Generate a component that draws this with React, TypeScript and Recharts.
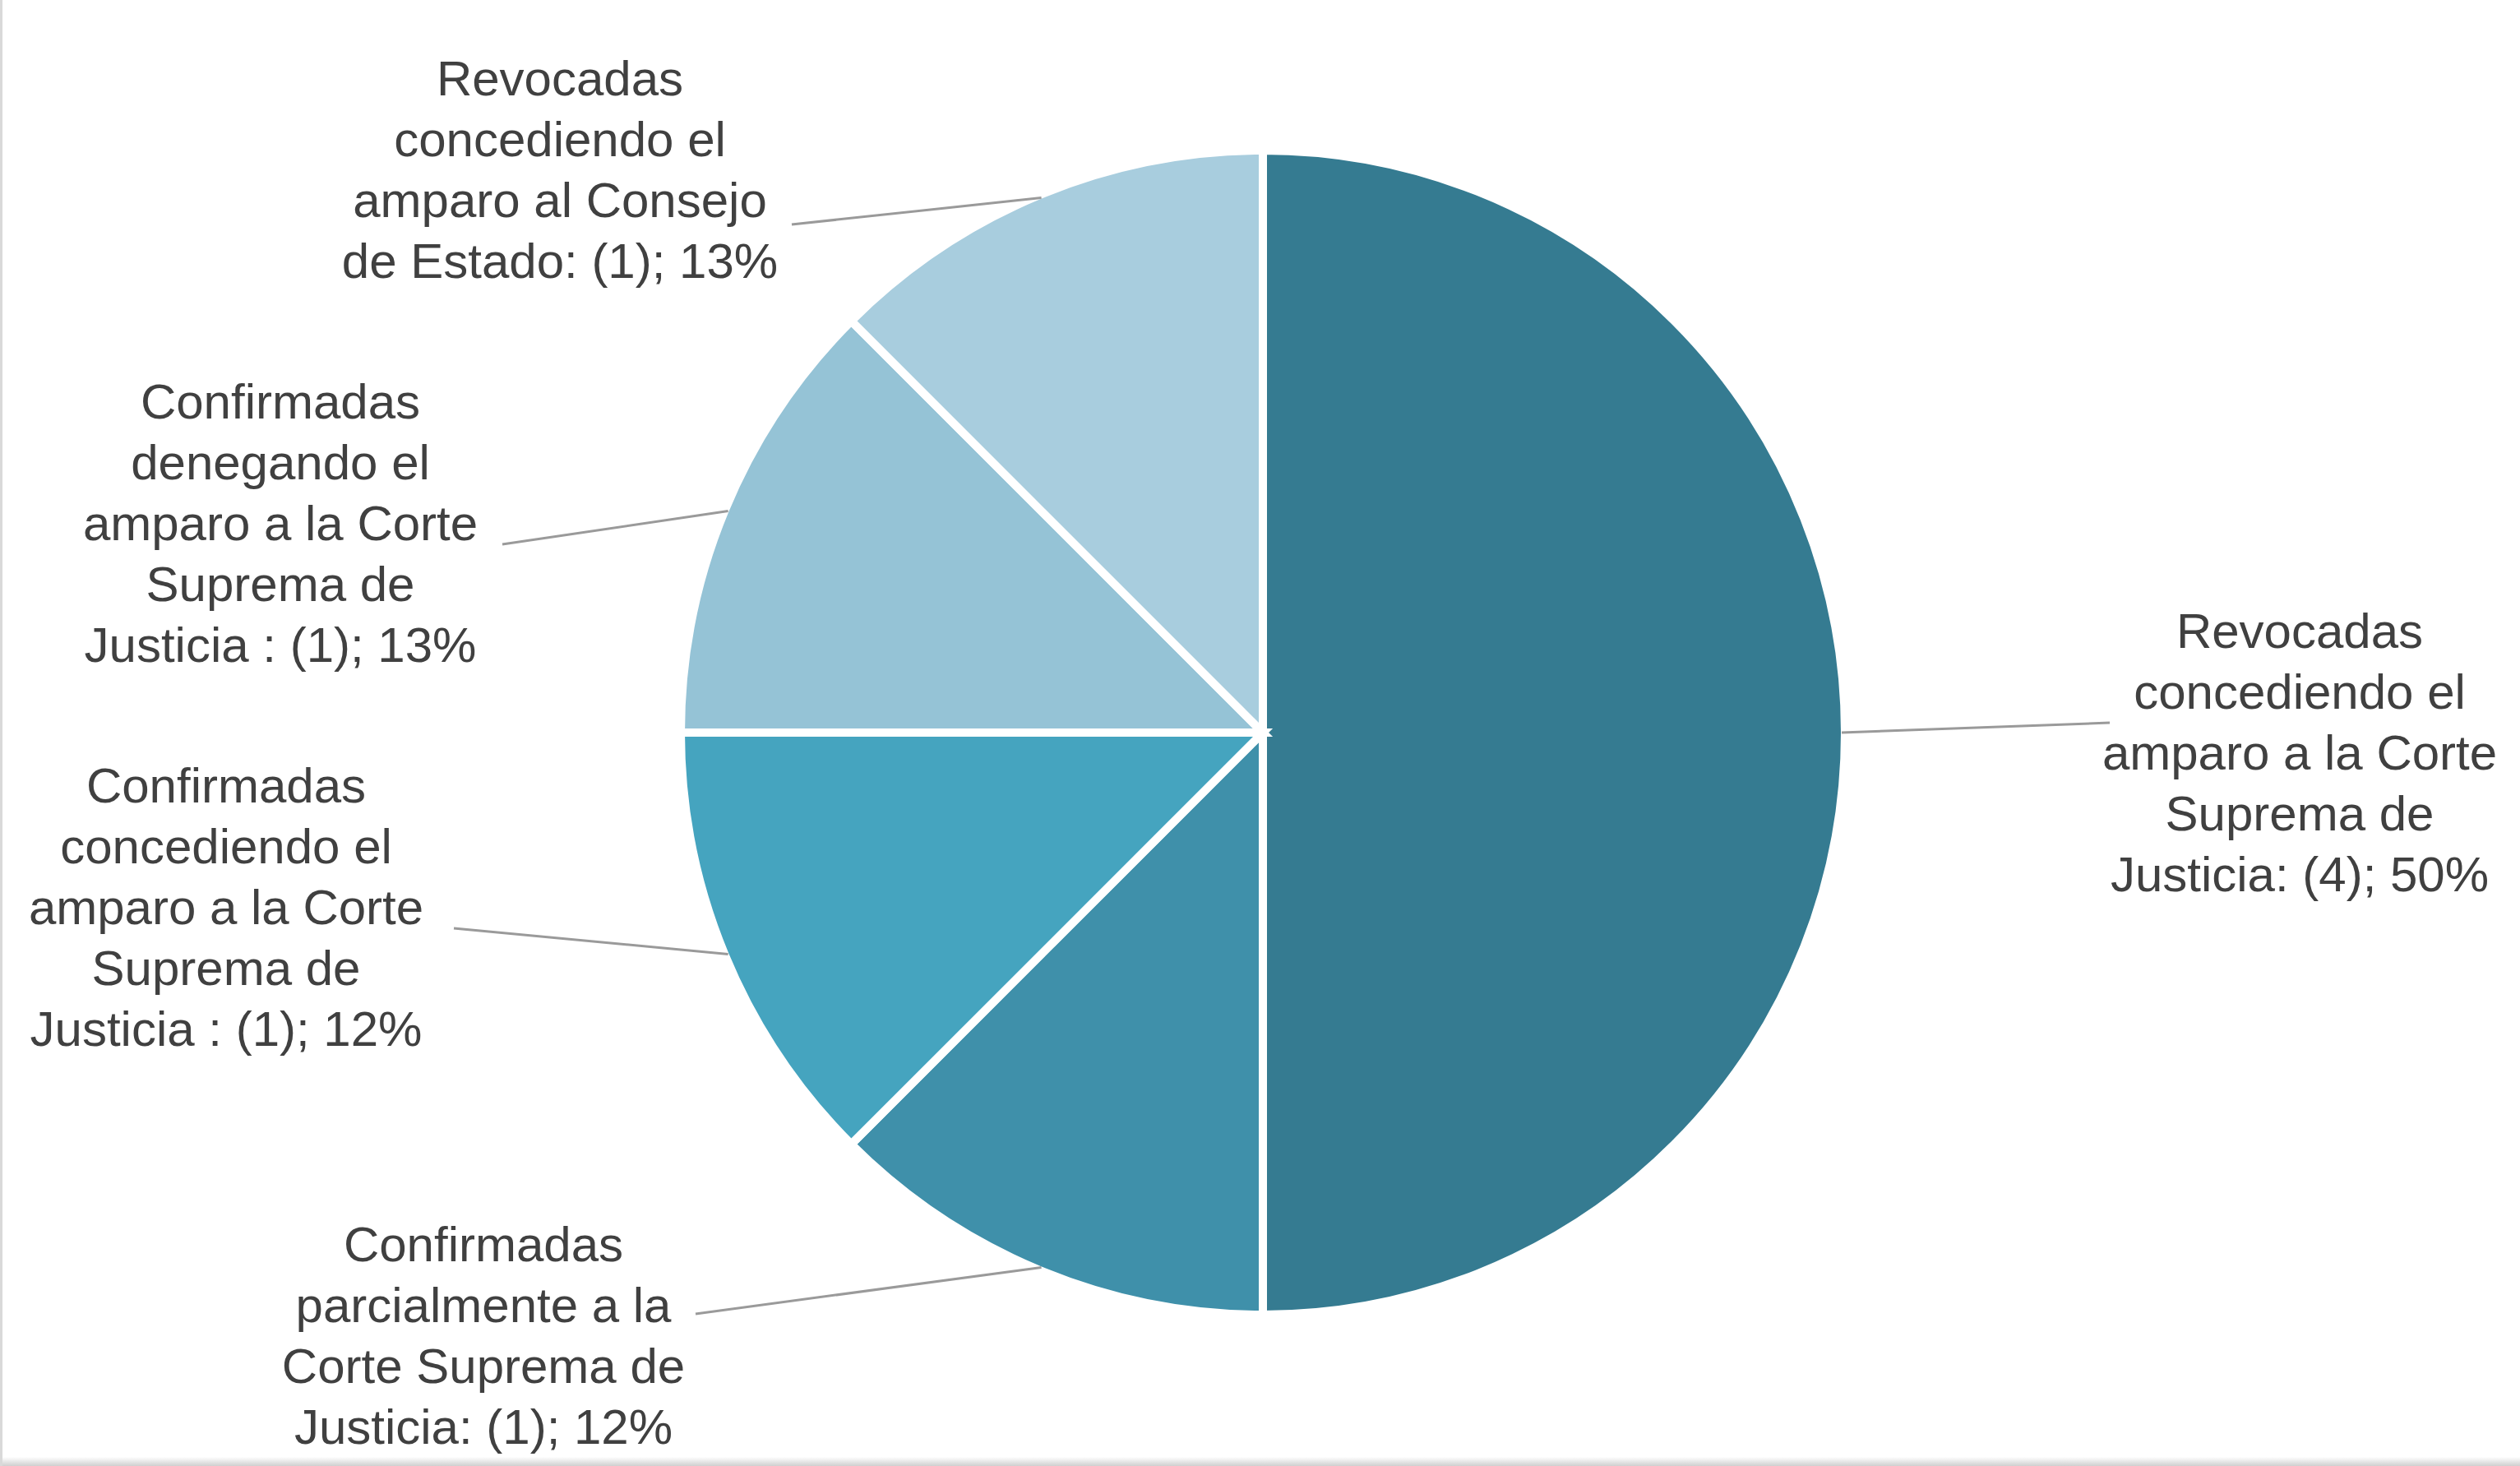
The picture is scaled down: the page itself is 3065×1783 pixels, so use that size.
import { PieChart, Pie, Cell } from "recharts";

const categories = [
  "Revocadas concediendo el amparo a la Corte Suprema de Justicia",
  "Confirmadas parcialmente a la Corte Suprema de Justicia",
  "Confirmadas concediendo el amparo a la Corte Suprema de Justicia",
  "Confirmadas denegando el amparo a la Corte Suprema de Justicia",
  "Revocadas concediendo el amparo al Consejo de Estado",
];
const counts = [4, 1, 1, 1, 1];
const percentLabels = ["50%", "12%", "12%", "13%", "13%"];

// label text as wrapped in the original chart
const labelLines = [
  ["Revocadas", "concediendo el", "amparo a la Corte", "Suprema de", "Justicia: (4); 50%"],
  ["Confirmadas", "parcialmente a la", "Corte Suprema de", "Justicia: (1); 12%"],
  ["Confirmadas", "concediendo el", "amparo a la Corte", "Suprema de", "Justicia : (1); 12%"],
  ["Confirmadas", "denegando el", "amparo a la Corte", "Suprema de", "Justicia : (1); 13%"],
  ["Revocadas", "concediendo el", "amparo al Consejo", "de Estado: (1); 13%"],
];

const COLORS = ["#357B91", "#3F90AA", "#45A4BF", "#95C3D6", "#A8CDDE"];

// manual label placement (offsets from pie centre), like the Excel original
const LABEL_POS = [
  { dx: 1261, dy: -124, ex: 1030, ey: -12 },
  { dx: -948, dy: 622, ex: -690, ey: 707 },
  { dx: -1261, dy: 64, ex: -984, ey: 238 },
  { dx: -1195, dy: -403, ex: -925, ey: -229 },
  { dx: -855, dy: -796, ex: -573, ey: -618 },
];

const LINE_H = 74;
const RADIAN = Math.PI / 180;

const data = categories.map((name, i) => ({
  name,
  value: counts[i],
  pct: percentLabels[i],
}));

function renderLabel(props: any) {
  const { cx, cy, midAngle, outerRadius, index } = props;
  const pos = LABEL_POS[index];
  const sx = cx + (outerRadius - 4) * Math.cos(-midAngle * RADIAN);
  const sy = cy + (outerRadius - 4) * Math.sin(-midAngle * RADIAN);
  const lines = labelLines[index];
  return (
    <g key={`lbl-${index}`}>
      <polyline
        points={`${sx},${sy} ${cx + pos.ex},${cy + pos.ey}`}
        stroke="#9A9A9A"
        strokeWidth={3}
        fill="none"
      />
      <text
        x={cx + pos.dx}
        y={cy + pos.dy}
        textAnchor="middle"
        dominantBaseline="central"
        fill="#404040"
        fontSize={60}
        fontFamily="'Liberation Sans', Arial, sans-serif"
      >
        {lines.map((ln, j) => (
          <tspan key={j} x={cx + pos.dx} y={cy + pos.dy + j * LINE_H}>
            {ln}
          </tspan>
        ))}
      </text>
    </g>
  );
}

export default function App() {
  return (
    <div
      style={{
        position: "absolute",
        left: 0,
        top: 0,
        width: 3065,
        height: 1783,
        background: "#fff",
        borderLeft: "3px solid #d9d9d9",
        boxSizing: "border-box",
      }}
    >
      <PieChart width={3062} height={1772}>
        <Pie
          data={data}
          dataKey="value"
          nameKey="name"
          cx={1528}
          cy={886}
          outerRadius={708}
          startAngle={90}
          endAngle={-270}
          stroke="#ffffff"
          strokeWidth={10}
          label={renderLabel}
          labelLine={false}
          isAnimationActive={false}
        >
          {data.map((entry, index) => (
            <Cell key={`cell-${index}`} fill={COLORS[index % COLORS.length]} />
          ))}
        </Pie>
      </PieChart>
      <div
        style={{
          position: "absolute",
          left: 0,
          bottom: 0,
          width: "100%",
          height: 11,
          background: "linear-gradient(#ffffff, #cfcfcf)",
        }}
      />
    </div>
  );
}
